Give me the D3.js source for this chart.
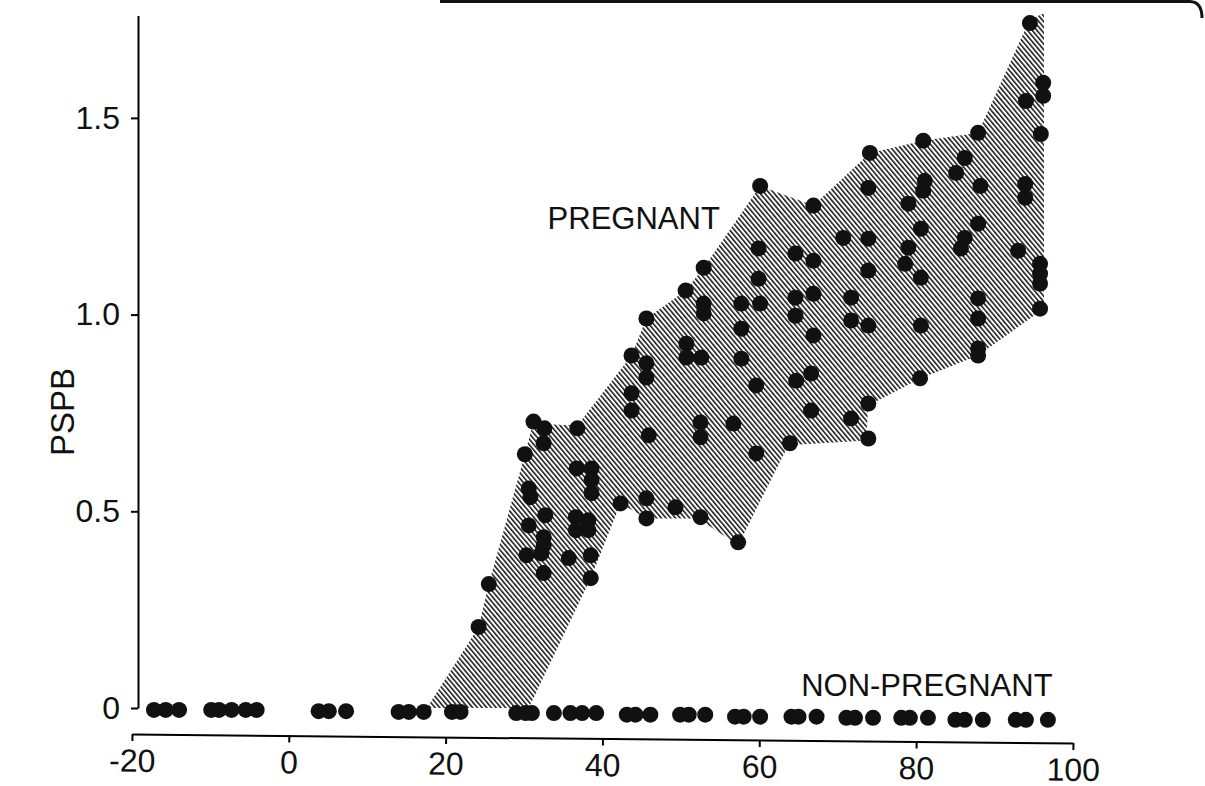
<!DOCTYPE html>
<html>
<head>
<meta charset="utf-8">
<script src="https://cdn.jsdelivr.net/npm/d3@7"></script>
<style>
  body { margin: 0; background: #fff; }
  text { font-family: "Liberation Sans", Arial, sans-serif; fill: #111; }
</style>
</head>
<body>
<div id="chart"></div>
<script>
// pregnant cows: [x, PSPB]
var pregX = [24.2, 25.5, 30.1, 31.2, 32.6, 32.5, 30.6, 30.8, 32.7, 30.6, 32.5, 32.5, 30.3, 32.2, 32.5, 35.7,
    36.7, 38.6, 38.6, 38.6, 36.6, 38.2, 36.6, 38.2, 38.5, 38.5, 36.8, 42.3,
    45.6, 43.7, 45.6, 45.6, 43.7, 43.7, 45.9, 45.6, 45.6,
    50.6, 50.7, 50.7, 52.6, 52.9, 52.9, 52.9, 52.5, 52.5, 49.3, 52.5,
    56.7, 57.3, 57.7, 57.7, 57.7, 59.6, 59.6, 59.9, 59.9, 60.1, 60.1,
    63.9, 64.6, 64.6, 64.6, 64.7, 66.6, 66.6, 66.9, 66.9, 66.9, 66.9,
    70.7, 73.9, 74.1, 73.9, 73.9, 71.7, 71.7, 73.9, 73.9, 71.7, 73.9,
    78.6, 79.0, 79.0, 80.6, 80.6, 80.9, 80.9, 81.1, 80.6, 80.5,
    85.1, 86.2, 87.9, 88.2, 87.9, 86.2, 85.7, 87.9, 87.9, 87.9, 87.9,
    94.5, 96.2, 96.2, 94.0, 95.9, 93.9, 93.9, 93.0, 95.8, 95.8, 95.8, 95.8];
var pregY = [0.206, 0.315, 0.645, 0.728, 0.711, 0.673, 0.558, 0.536, 0.490, 0.464, 0.434, 0.414, 0.388, 0.393, 0.343, 0.381,
    0.609, 0.609, 0.579, 0.546, 0.485, 0.477, 0.452, 0.452, 0.388, 0.330, 0.711, 0.520,
    0.990, 0.896, 0.876, 0.840, 0.800, 0.756, 0.693, 0.533, 0.482,
    1.061, 0.926, 0.891, 0.891, 1.119, 1.028, 1.003, 0.726, 0.688, 0.510, 0.485,
    0.723, 0.421, 1.028, 0.964, 0.888, 0.820, 0.647, 1.168, 1.091, 1.028, 1.327,
    0.673, 1.155, 1.043, 0.997, 0.832, 0.850, 0.756, 1.277, 1.137, 1.053, 0.947,
    1.195, 1.193, 1.411, 1.322, 1.112, 1.043, 0.985, 0.972, 0.774, 0.736, 0.685,
    1.129, 1.282, 1.170, 1.218, 1.094, 1.442, 1.315, 1.340, 0.972, 0.838,
    1.360, 1.398, 1.462, 1.327, 1.231, 1.195, 1.168, 1.041, 0.990, 0.914, 0.896,
    1.741, 1.589, 1.556, 1.543, 1.459, 1.332, 1.297, 1.162, 1.129, 1.104, 1.079, 1.015];

// non-pregnant cows
var nonX = [-17.2, -15.7, -14.0, -9.9, -8.9, -7.3, -5.5, -4.1, 3.8, 5.1, 7.3, 14.0, 15.3, 17.2, 20.8, 21.9,
    29.0, 30.2, 31.0, 33.8, 35.9, 37.4, 39.2, 43.1, 44.2, 46.1, 49.9, 51.0, 53.1, 56.9, 58.0, 60.1,
    64.1, 65.0, 67.3, 71.1, 72.2, 74.5, 78.1, 79.2, 81.5, 85.0, 86.2, 88.5, 92.7, 94.0, 96.8];
var nonY = [-0.005, -0.005, -0.005, -0.005, -0.005, -0.005, -0.005, -0.005, -0.008, -0.008, -0.008, -0.01, -0.01, -0.01, -0.01, -0.01,
    -0.013, -0.013, -0.013, -0.013, -0.013, -0.013, -0.013, -0.017, -0.017, -0.017, -0.017, -0.017, -0.017, -0.022, -0.022, -0.022,
    -0.022, -0.022, -0.022, -0.025, -0.025, -0.025, -0.025, -0.025, -0.025, -0.03, -0.03, -0.03, -0.03, -0.03, -0.03];

// outline of the shaded pregnant range
var bandX = [17.6, 24.2, 25.5, 30.1, 31.2, 32.9, 36.8, 43.7, 45.6, 50.6, 52.9, 60.1, 66.9, 74.1, 80.9, 87.9, 94.5, 96.3,
    96.3, 87.9, 80.6, 73.9, 73.6, 63.7, 57.3, 52.2, 45.6, 42.3, 38.5, 30.6];
var bandY = [0, 0.206, 0.315, 0.645, 0.728, 0.721, 0.718, 0.896, 0.990, 1.061, 1.119, 1.327, 1.277, 1.411, 1.442, 1.462, 1.751, 1.766,
    1.015, 0.896, 0.838, 0.769, 0.680, 0.668, 0.414, 0.482, 0.482, 0.520, 0.330, 0];

var xTicks = [-20, 0, 20, 40, 60, 80, 100];
var yTicks = [0, 0.5, 1.0, 1.5];

var width = 1205, height = 786;

var svg = d3.select("#chart")
    .append("svg")
    .attr("width", width)
    .attr("height", height);

var x = d3.scaleLinear().domain([-20, 100]).range([132, 1073]);
var y = d3.scaleLinear().domain([0, 1.76]).range([708, 15.6]);

// hatch pattern
var pat = svg.append("defs").append("pattern")
    .attr("id", "hatch")
    .attr("patternUnits", "userSpaceOnUse")
    .attr("width", 3.6)
    .attr("height", 10)
    .attr("patternTransform", "rotate(-40)");
pat.append("rect").attr("width", 3.6).attr("height", 10).attr("fill", "#fff");
pat.append("rect").attr("width", 1.5).attr("height", 10).attr("fill", "#111");

// scan border at top
svg.append("path")
    .attr("d", "M440,1.5 L1190,1.5 Q1202,2 1202,18")
    .attr("fill", "none")
    .attr("stroke", "#111")
    .attr("stroke-width", 3);

// shaded band
var band = bandX.map((d, i) => [x(d), y(bandY[i])]);
svg.append("path")
    .attr("d", d3.line()(band) + "Z")
    .attr("fill", "url(#hatch)");

// Y axis
var yAxis = svg.append("g")
    .attr("transform", "translate(138,0)")
    .call(d3.axisLeft(y).tickValues(yTicks).tickSize(7).tickSizeOuter(0)
        .tickFormat(d => d === 0 ? "0" : d3.format(".1f")(d)));
yAxis.select(".domain").attr("stroke-width", 2);
yAxis.selectAll(".tick line").attr("stroke-width", 2);
yAxis.selectAll(".tick text")
    .attr("x", -18)
    .style("font-size", "32px")
    .style("font-family", "Liberation Sans, Arial, sans-serif");

// X axis (slightly tilted, as in the scan)
var xAxis = svg.append("g")
    .attr("transform", "translate(0,734) rotate(0.55,132,0)")
    .call(d3.axisBottom(x).tickValues(xTicks).tickSize(7).tickSizeOuter(0)
        .tickFormat(d => String(d)));
xAxis.select(".domain").attr("stroke-width", 2);
xAxis.selectAll(".tick line").attr("stroke-width", 2);
xAxis.selectAll(".tick text")
    .attr("y", 15)
    .style("font-size", "32px")
    .style("font-family", "Liberation Sans, Arial, sans-serif");

// axis title
svg.append("text")
    .attr("transform", "translate(74,412) rotate(-90)")
    .attr("text-anchor", "middle")
    .style("font-size", "33px")
    .text("PSPB");

// points
svg.append("g")
    .selectAll("circle.preg")
    .data(pregX)
    .enter()
    .append("circle")
    .attr("cx", d => x(d))
    .attr("cy", (d, i) => y(pregY[i]))
    .attr("r", 8)
    .style("fill", "#111");

svg.append("g")
    .selectAll("circle.non")
    .data(nonX)
    .enter()
    .append("circle")
    .attr("cx", d => x(d))
    .attr("cy", (d, i) => y(nonY[i]))
    .attr("r", 8)
    .style("fill", "#111");

// labels
svg.append("text")
    .attr("x", x(33.0))
    .attr("y", 229)
    .style("font-size", "31px")
    .text("PREGNANT");

svg.append("text")
    .attr("x", x(97.4))
    .attr("y", 696)
    .attr("text-anchor", "end")
    .style("font-size", "31px")
    .text("NON-PREGNANT");
</script>
</body>
</html>
